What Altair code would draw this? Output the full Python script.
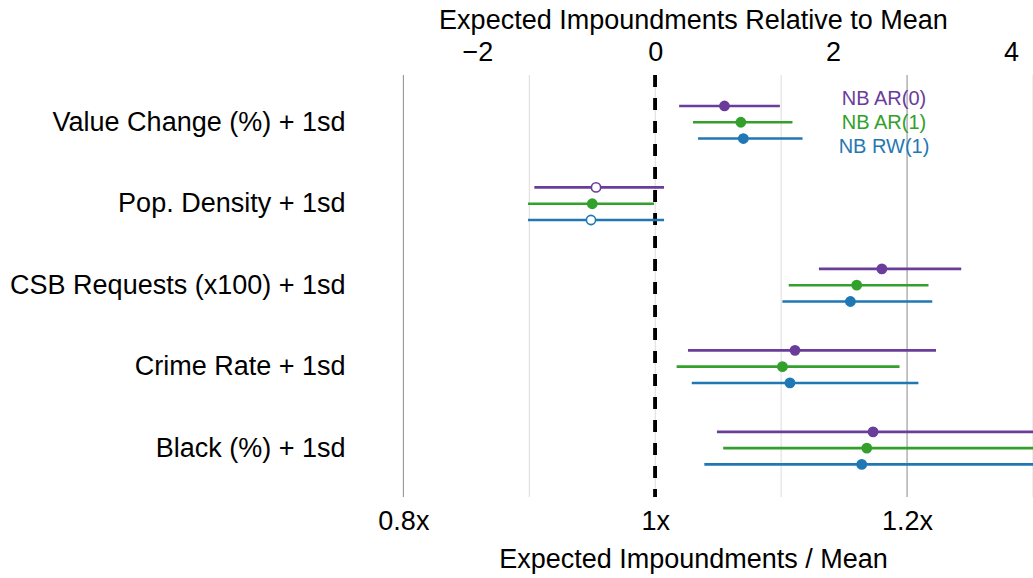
import json
import altair as alt
import pandas as pd

# ---------------- data ----------------
categories = [
    "Value Change (%) + 1sd",
    "Pop. Density + 1sd",
    "CSB Requests (x100) + 1sd",
    "Crime Rate + 1sd",
    "Black (%) + 1sd",
]
series = ["NB AR(0)", "NB AR(1)", "NB RW(1)"]
colors = ["#6a3d9a", "#33a02c", "#1f78b4"]

ar0_est = [1.055, 0.953, 1.180, 1.111, 1.173]
ar0_lo = [1.019, 0.904, 1.130, 1.026, 1.049]
ar0_hi = [1.099, 1.007, 1.243, 1.223, 1.330]

ar1_est = [1.068, 0.950, 1.160, 1.101, 1.168]
ar1_lo = [1.030, 0.899, 1.106, 1.017, 1.054]
ar1_hi = [1.109, 0.999, 1.217, 1.194, 1.316]

rw1_est = [1.070, 0.949, 1.155, 1.107, 1.164]
rw1_lo = [1.034, 0.899, 1.101, 1.029, 1.039]
rw1_hi = [1.117, 1.007, 1.220, 1.209, 1.327]

bottom_ticks = [0.8, 1.0, 1.2]
top_ticks = [-2, 0, 2, 4]
grid_major = [0.8, 1.2]
grid_minor = [0.9, 1.0, 1.1, 1.3]

# impoundments per unit of ratio (top axis vs bottom axis)
units_per_ratio = 14.16
x_domain = [0.76, 1.30]
top_domain = [(x_domain[0] - 1) * units_per_ratio, (x_domain[1] - 1) * units_per_ratio]
series_offsets = [-0.2, 0.0, 0.2]

# ---------------- table ----------------
est = [ar0_est, ar1_est, rw1_est]
lo = [ar0_lo, ar1_lo, rw1_lo]
hi = [ar0_hi, ar1_hi, rw1_hi]
rows = []
for s_i, s in enumerate(series):
    for c_i, c in enumerate(categories):
        l, h = lo[s_i][c_i], hi[s_i][c_i]
        rows.append({
            "series": s,
            "category": c,
            "ypos": c_i + series_offsets[s_i],
            "est": est[s_i][c_i],
            "lo": l,
            "hi": h,
            "sig": bool(l > 1 or h < 1),
        })
df = pd.DataFrame(rows)

grid_df = pd.DataFrame(
    [{"v": v, "major": True} for v in grid_major] + [{"v": v, "major": False} for v in grid_minor]
)
legend_df = pd.DataFrame({"series": series, "ly": [24, 48, 72]})
top_df = pd.DataFrame({"t": top_ticks})

FONT = "Liberation Sans"
FS = 27

xscale = alt.Scale(domain=x_domain, nice=False, zero=False)
yscale = alt.Scale(domain=[-0.58, 4.6], reverse=True, nice=False, zero=False)
cscale = alt.Scale(domain=series, range=colors)

bottom_axis = alt.Axis(
    values=bottom_ticks, format="~g", labelExpr="datum.label + 'x'",
    title="Expected Impoundments / Mean", grid=False, ticks=False, domain=False,
    labelFontSize=FS, titleFontSize=FS, labelFont=FONT, titleFont=FONT,
    labelColor="black", titleColor="black", titleFontWeight="normal",
    labelPadding=11, titlePadding=12,
)
label_js = json.dumps(categories)
left_axis = alt.Axis(
    values=list(range(len(categories))), labelExpr=f"{label_js}[datum.value]",
    title=None, grid=False, ticks=False, domain=False,
    labelFontSize=FS, labelFont=FONT, labelColor="black", labelPadding=8,
    labelLimit=400,
)

base = alt.Chart(df)

grid = alt.Chart(grid_df).mark_rule(strokeWidth=1).encode(
    x=alt.X("v:Q", scale=xscale, axis=bottom_axis),
    color=alt.condition("datum.major", alt.value("#8a8a8a"), alt.value("#dcdcdc")),
)

ref = alt.Chart(grid_df).mark_rule(
    color="black", strokeWidth=3, strokeDash=[12, 11]
).encode(x=alt.datum(1.0, scale=xscale, axis=bottom_axis))

ci = base.mark_rule(strokeWidth=2.6, clip=True).encode(
    x=alt.X("lo:Q", scale=xscale, axis=bottom_axis),
    x2="hi:Q",
    y=alt.Y("ypos:Q", scale=yscale, axis=left_axis),
    color=alt.Color("series:N", scale=cscale, legend=None),
)

pts = base.mark_point(shape="circle", filled=True, size=85, strokeWidth=1.6, opacity=1).encode(
    x=alt.X("est:Q", scale=xscale, axis=bottom_axis),
    y=alt.Y("ypos:Q", scale=yscale, axis=left_axis),
    stroke=alt.Color("series:N", scale=cscale, legend=None),
    fill=alt.condition("datum.sig", alt.Color("series:N", scale=cscale, legend=None), alt.value("white")),
)

legend_txt = alt.Chart(legend_df).mark_text(
    font=FONT, fontSize=20, align="center", baseline="middle"
).encode(
    text="series:N",
    x=alt.value(531),
    y=alt.Y("ly:Q", scale=None),
    color=alt.Color("series:N", scale=cscale, legend=None),
)

inner = alt.layer(grid, ref, ci, pts, legend_txt)

top_layer = alt.Chart(top_df).mark_rule(opacity=0).encode(
    x=alt.X("t:Q", scale=alt.Scale(domain=top_domain, nice=False, zero=False),
            axis=alt.Axis(
                orient="top", values=top_ticks, title="Expected Impoundments Relative to Mean",
                grid=False, ticks=False, domain=False,
                labelFontSize=FS, titleFontSize=FS, labelFont=FONT, titleFont=FONT,
                labelColor="black", titleColor="black", titleFontWeight="normal",
                labelPadding=9, titlePadding=4,
            )),
)

chart = alt.layer(inner, top_layer).resolve_scale(x="independent").properties(
    width=680, height=422,
    background="white",
    autosize=alt.AutoSizeParams(type="none"),
    padding={"left": 353, "top": 75, "right": 0, "bottom": 81},
).configure_view(strokeWidth=0, stroke="transparent")

chart.save("out.html", embed_options={"renderer": "svg", "actions": False})
